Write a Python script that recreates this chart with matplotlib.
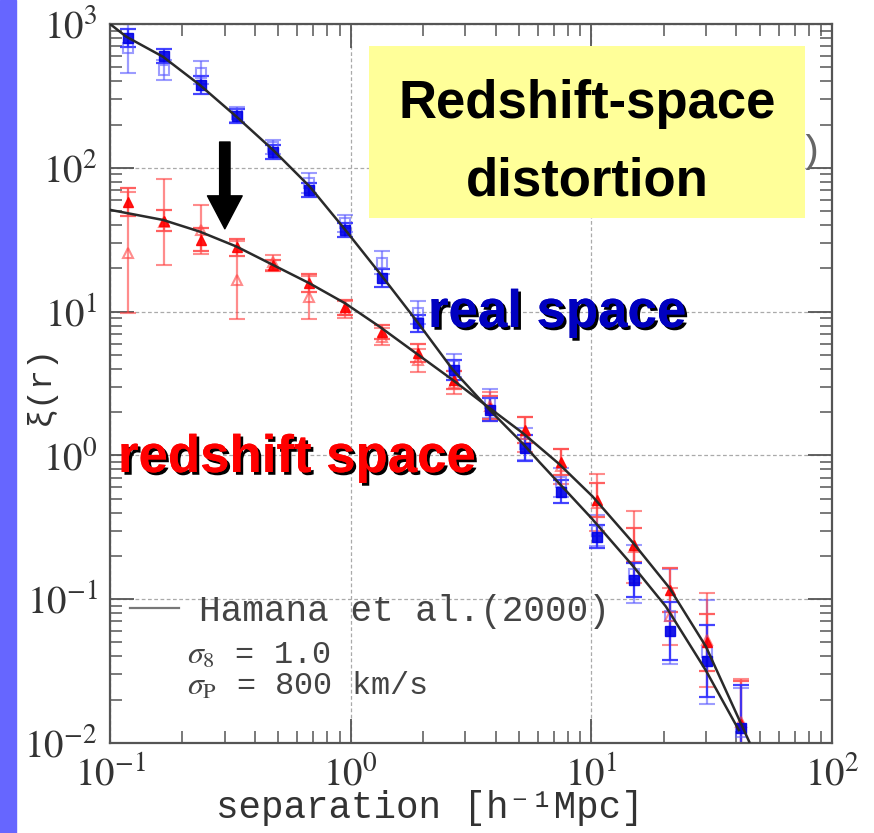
import numpy as np
import matplotlib.pyplot as plt
import matplotlib.patheffects as pe
from matplotlib.patches import Rectangle
from matplotlib.lines import Line2D

plt.rcParams['mathtext.fontset'] = 'stix'
plt.rcParams['font.family'] = ['STIXGeneral', 'DejaVu Sans']

# separation bins [h^-1 Mpc]
sep = [0.119, 0.168, 0.238, 0.336, 0.476, 0.673, 0.95, 1.35, 1.9, 2.69,
       3.8, 5.3, 7.5, 10.6, 15.0, 21.2, 30.2, 42.0]

# real-space xi(r): two estimates (filled / open squares), errors in dex
real_a = [800, 600, 377, 229, 129, 70, 37, 17.1, 8.3, 3.9,
          2.07, 1.12, 0.557, 0.271, 0.136, 0.060, 0.037, 0.0127]
real_a_err = [0.06, 0.05, 0.06, 0.05, 0.05, 0.05, 0.05, 0.06, 0.06, 0.07,
              0.08, 0.09, 0.08, 0.08, 0.12, 0.2, 0.25, 0.3]
real_b = [680, 480, 457, 235, 140, 78, 41, 21.8, 9.8, 4.2,
          2.3, 1.2, 0.65, 0.30, 0.15, 0.076, 0.043, 0.012]
real_b_err = [0.17, 0.07, 0.08, 0.05, 0.05, 0.07, 0.06, 0.08, 0.08, 0.08,
              0.1, 0.11, 0.1, 0.11, 0.2, 0.33, 0.36, 0.3]

# redshift-space xi(s): filled / open triangles
zsp_a = [57.8, 43, 31.5, 28, 21, 15.8, 10.7, 7.2, 5.15, 3.35,
         2.14, 1.5, 0.9, 0.49, 0.238, 0.116, 0.050, 0.0135]
zsp_a_err = [0.1, 0.07, 0.08, 0.06, 0.04, 0.06, 0.05, 0.05, 0.06, 0.06,
             0.08, 0.09, 0.09, 0.12, 0.12, 0.15, 0.2, 0.3]
zsp_b = [25.7, 42, 37, 16.6, 22, 12.6, 10.3, 6.7, 4.6, 3.2,
         2.2, 1.4, 0.84, 0.47, 0.23, 0.076, 0.052, 0.014]
zsp_b_err = [0.42, 0.3, 0.17, 0.27, 0.05, 0.15, 0.06, 0.06, 0.08, 0.08,
             0.1, 0.12, 0.12, 0.2, 0.25, 0.2, 0.33, 0.3]

# Hamana et al. (2000) model curves
mod_r_x = [0.1, 0.117, 0.166, 0.236, 0.336, 0.476, 0.676, 0.95, 1.32, 1.87,
           2.66, 3.78, 5.19, 6.08, 10.0, 14.9, 20.4, 29.9, 41.0]
mod_r_y = [1000, 815, 592, 377, 226, 133, 74, 37, 18.5, 8.7,
           3.93, 2.07, 1.21, 0.9, 0.367, 0.17, 0.089, 0.032, 0.0123]
mod_s_x = [0.1, 0.166, 0.236, 0.336, 0.476, 0.676, 0.95, 1.32, 1.87, 2.66,
           3.56, 5.19, 7.3, 10.1, 14.9, 21.1, 29.9, 45.3]
mod_s_y = [51, 43.4, 36, 28.3, 21.1, 15.7, 11.4, 7.85, 5.13, 3.34,
           2.3, 1.43, 0.88, 0.52, 0.247, 0.12, 0.047, 0.0102]

W, H = 874, 833


def fx(x):
    return x / W


def fy(y):
    return 1 - y / H


def dex_err(v, e):
    v = np.asarray(v, float)
    e = np.asarray(e, float)
    return [v * (1 - 10 ** -e), v * (10 ** e - 1)]


fig = plt.figure(figsize=(W / 100, H / 100), dpi=100)
fig.patches.append(Rectangle((0, 0), fx(16), 1, transform=fig.transFigure,
                             color='#6666ff', zorder=0))
ax = fig.add_axes([fx(110), fy(743), fx(722), 719 / H])
ax.set_xscale('log')
ax.set_yscale('log')
ax.set_xlim(0.1, 100)
ax.set_ylim(0.01, 1000)

eb = dict(ls='none', capsize=5.5, elinewidth=1.6, capthick=1.6, ms=7.5)
ax.errorbar(sep, real_b, yerr=dex_err(real_b, real_b_err), marker='s',
            mfc='none', mec='#5a5aff', mew=1.5, ecolor='#5a5aff', alpha=0.6, **eb)
ax.errorbar(sep, zsp_b, yerr=dex_err(zsp_b, zsp_b_err), marker='^',
            mfc='none', mec='#ff4040', mew=1.5, ecolor='#ff4040', alpha=0.6, **eb)
ax.errorbar(sep, zsp_a, yerr=dex_err(zsp_a, zsp_a_err), marker='^',
            color='#ff0000', ecolor='#ff5050', alpha=0.9, **eb)
ax.errorbar(sep, real_a, yerr=dex_err(real_a, real_a_err), marker='s',
            color='#0000e6', ecolor='#3030ff', alpha=0.9, **eb)

ax.plot(mod_r_x, mod_r_y, color='#2a2a2a', lw=1.8, zorder=4)
ax.plot(mod_s_x, mod_s_y, color='#2a2a2a', lw=1.8, zorder=4)

ax.grid(True, which='major', color='#aaaaaa', lw=0.9, ls=(0, (3, 2)))
ax.tick_params(which='both', direction='in', top=True, right=True,
               color='#555555', labelcolor='#333333')
ax.tick_params(which='major', length=17, width=1.3, labelsize=28, pad=9)
ax.tick_params(which='minor', length=8.5, width=1.1)
for s in ax.spines.values():
    s.set_color('#555555')
    s.set_linewidth(1.6)

mono = ['Liberation Mono', 'DejaVu Sans Mono']
ax.set_xlabel('separation [h⁻¹Mpc]', family=mono, fontsize=27,
              color='#333333')
ax.xaxis.set_label_coords((430 - 110) / 722, -(808 - 743) / 719)
ax.xaxis.label.set_va('center')
ax.set_ylabel('ξ(r)', family=mono, fontsize=24, color='#333333')
ax.yaxis.set_label_coords(-(110 - 40) / 722, (743 - 385) / 719)
ax.yaxis.label.set_va('center')

# partly hidden caption behind the yellow box
ax.text(1.0 - (832 - 823) / 722, (743 - 152) / 719, '3)', transform=ax.transAxes,
        ha='right', va='center', family=mono, fontsize=28, color='#666666',
        zorder=2)
ax.add_patch(Rectangle(((369 - 110) / 722, (743 - 218) / 719), 436 / 722,
                       172 / 719, transform=ax.transAxes, fc='#ffff99',
                       ec='none', zorder=6))

leg = ax.legend([Line2D([], [], color='#777777', lw=1.6)],
                ['Hamana et al.(2000)'], loc='upper left',
                bbox_to_anchor=((130 - 110) / 722, (743 - 594) / 719),
                frameon=False, handlelength=1.35, handletextpad=0.55,
                borderpad=0, borderaxespad=0,
                prop={'family': mono, 'size': 26})
for t in leg.get_texts():
    t.set_color('#444444')
ax.text((187 - 110) / 722, (743 - 656) / 719, r'$\sigma_8$ = 1.0',
        transform=ax.transAxes, family=mono, fontsize=23, color='#444444',
        va='center')
ax.text((187 - 110) / 722, (743 - 686) / 719, r'$\sigma_\mathrm{P}$ = 800 km/s',
        transform=ax.transAxes, family=mono, fontsize=23, color='#444444',
        va='center')

# arrow: real -> redshift space
ax.annotate('', xy=(0.30, 36), xytext=(0.30, 158),
            arrowprops=dict(arrowstyle='simple,head_length=0.95,head_width=1.0,tail_width=0.3',
                            mutation_scale=25, fc='black', ec='black'),
            zorder=7)

bold = dict(family=['Liberation Sans', 'DejaVu Sans'], fontweight='bold',
            fontsize=38)
fig.text(fx(587), fy(118), 'Redshift-space', ha='center', va='baseline',
         color='black', **bold)
fig.text(fx(587), fy(195), 'distortion', ha='center', va='baseline',
         color='black', **bold)
shadow = [pe.withSimplePatchShadow(offset=(2, -2), shadow_rgbFace='black',
                                   alpha=1.0), pe.Normal()]
fig.text(fx(428), fy(327), 'real space', ha='left', va='baseline',
         color='#0000c0', path_effects=shadow, **bold)
fig.text(fx(118), fy(472), 'redshift space', ha='left', va='baseline',
         color='#ff0000', path_effects=shadow, **bold)

fig.savefig('out.png', dpi=100)
